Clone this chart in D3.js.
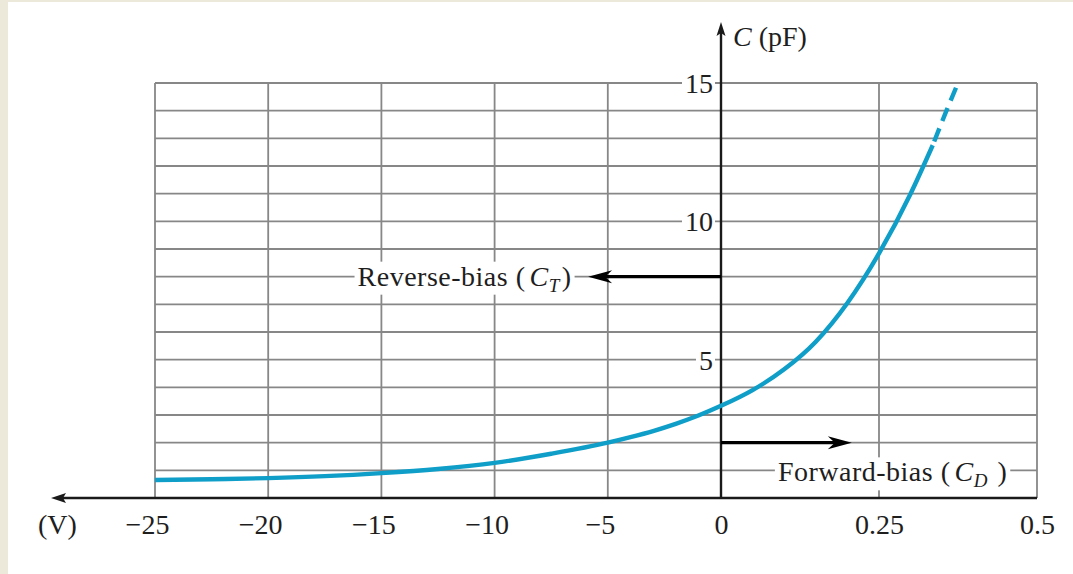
<!DOCTYPE html>
<html>
<head>
<meta charset="utf-8">
<script src="https://cdn.jsdelivr.net/npm/d3@7"></script>
<style>
  html, body { margin: 0; padding: 0; background: #ffffff; }
  svg { display: block; }
</style>
</head>
<body>
<svg id="chart" width="1073" height="574"></svg>
<script>
// ---- data ----
const reverseV = [-25, -22.5, -20, -17.5, -15, -12.5, -10, -7.5, -5, -4, -3, -2, -1, 0];
const reverseC = [0.65, 0.68, 0.72, 0.79, 0.9, 1.05, 1.27, 1.6, 2.0, 2.2, 2.42, 2.68, 2.98, 3.33];
const forwardV = [0.05, 0.1, 0.15, 0.2, 0.25, 0.3, 0.335];
const forwardC = [3.9, 4.65, 5.65, 7.05, 8.84, 11.0, 12.75];
const extrapV = [0.335, 0.355, 0.375];
const extrapC = [12.75, 13.9, 15.0];
const xTickValues = [-25, -20, -15, -10, -5, 0, 0.25, 0.5];
const xGridValues = [-25, -20, -15, -10, -5, 0.25, 0.5];
const yTickValues = [5, 10, 15];
const yGridValues = [1, 2, 3, 4, 5, 6, 7, 8, 9, 10, 11, 12, 13, 14, 15];
const yAxisTitle = ["C", " (pF)"];
const xAxisTitle = "(V)";
const reverseLabel = ["Reverse-bias (", "C", "T", ")"];
const forwardLabel = ["Forward-bias (", "C", "D", " )"];
// annotation anchors in data units (V, pF)
const reverseArrow = { from: 0, to: -5.87, c: 8 };
const forwardArrow = { from: 0, to: 0.207, c: 2 };
const reverseText = { v: -6.6, c: 8 };
const forwardText = { v: 0.09, c: 1 };

const W = 1073, H = 574;
const FONT = "'Liberation Serif', 'DejaVu Serif', serif";
const FS = 28;
const TEXT = "#1e1e1e";
const svg = d3.select("#chart");

// backgrounds
svg.append("rect").attr("width", W).attr("height", H).attr("fill", "#ece9da");
svg.append("rect").attr("x", 8).attr("y", 2).attr("width", W - 8).attr("height", H - 2).attr("fill", "#ffffff");

const x = d3.scaleLinear().domain([-25, 0, 0.5]).range([155, 721, 1037]);
const y = d3.scaleLinear().domain([0, 15]).range([498, 83]);

const gridColor = "#878787";
const gGrid = svg.append("g");
gGrid.selectAll("line.v").data(xGridValues).join("line")
  .attr("x1", d => x(d)).attr("x2", d => x(d))
  .attr("y1", y(0)).attr("y2", y(15))
  .attr("stroke", gridColor).attr("stroke-width", 1.8);
gGrid.selectAll("line.h").data(yGridValues).join("line")
  .attr("x1", x(-25)).attr("x2", x(0.5))
  .attr("y1", d => y(d)).attr("y2", d => y(d))
  .attr("stroke", gridColor).attr("stroke-width", 1.8);

// layer for white label backgrounds
const gMask = svg.append("g");

// axes lines
const axisColor = "#1a1a1a";
svg.append("line").attr("x1", 62).attr("x2", x(0.5)).attr("y1", y(0)).attr("y2", y(0))
  .attr("stroke", axisColor).attr("stroke-width", 2.4);
svg.append("path")
  .attr("d", `M51,${y(0)} L66,${y(0) - 5} L63,${y(0)} L66,${y(0) + 5} Z`)
  .attr("fill", axisColor);
svg.append("line").attr("x1", x(0)).attr("x2", x(0)).attr("y1", y(0)).attr("y2", 32)
  .attr("stroke", axisColor).attr("stroke-width", 2.4);
svg.append("path")
  .attr("d", `M${x(0)},22 L${x(0) - 4.5},36 L${x(0)},33 L${x(0) + 4.5},36 Z`)
  .attr("fill", axisColor);

// x tick labels via d3 axis
const fmt = d => d < 0 ? "\u2212" + (-d) : String(d);
const gx = svg.append("g").attr("transform", `translate(0,${y(0)})`)
  .call(d3.axisBottom(x).tickValues(xTickValues).tickSize(0).tickPadding(16).tickFormat(fmt));
gx.select(".domain").remove();
gx.selectAll("text")
  .attr("font-family", FONT).attr("font-size", FS).attr("fill", TEXT)
  .attr("dx", d => d < 0 ? -8 : 0);

// y tick labels via d3 axis
const gy = svg.append("g").attr("transform", `translate(${x(0)},0)`)
  .call(d3.axisLeft(y).tickValues(yTickValues).tickSize(0).tickPadding(8));
gy.select(".domain").remove();
gy.selectAll("text")
  .attr("font-family", FONT).attr("font-size", FS).attr("fill", TEXT)
  .attr("dy", "0.34em");
gy.selectAll("text").each(function () {
  const b = this.getBBox();
  const tr = this.parentNode.transform.baseVal.consolidate();
  const ty = tr ? tr.matrix.f : 0;
  gMask.append("rect")
    .attr("x", x(0) + b.x - 3).attr("y", ty + b.y + 3)
    .attr("width", b.width + 5).attr("height", b.height - 6)
    .attr("fill", "#fff");
});

// axis titles
const tY = svg.append("text").attr("x", 733).attr("y", 46)
  .attr("font-family", FONT).attr("font-size", FS).attr("fill", TEXT);
tY.append("tspan").attr("font-style", "italic").text(yAxisTitle[0]);
tY.append("tspan").text(yAxisTitle[1]);
svg.append("text").attr("x", 38).attr("y", 534)
  .attr("font-family", FONT).attr("font-size", FS).attr("fill", TEXT).text(xAxisTitle);

// curve
const curveColor = "#0e9ec8";
const solidData = reverseV.map((v, i) => [v, reverseC[i]])
  .concat(forwardV.map((v, i) => [v, forwardC[i]]));
const dashData = extrapV.map((v, i) => [v, extrapC[i]]);
const line = d3.line().x(d => x(d[0])).y(d => y(d[1])).curve(d3.curveMonotoneX);
svg.append("path").attr("d", line(solidData))
  .attr("fill", "none").attr("stroke", curveColor).attr("stroke-width", 4.4);
svg.append("path").attr("d", line(dashData))
  .attr("fill", "none").attr("stroke", curveColor).attr("stroke-width", 4.4)
  .attr("stroke-dasharray", "0 4 14 4");

// arrows
function arrow(x1, x2, yy) {
  const dir = Math.sign(x2 - x1);
  const L = 24, hw = 6.5;
  svg.append("line").attr("x1", x1).attr("x2", x2 - dir * 10).attr("y1", yy).attr("y2", yy)
    .attr("stroke", "#000").attr("stroke-width", 3.4);
  svg.append("path")
    .attr("d", `M${x2},${yy} L${x2 - dir * L},${yy - hw} L${x2 - dir * (L - 7)},${yy} L${x2 - dir * L},${yy + hw} Z`)
    .attr("fill", "#000");
}
arrow(x(reverseArrow.from), x(reverseArrow.to), y(reverseArrow.c));
arrow(x(forwardArrow.from), x(forwardArrow.to), y(forwardArrow.c));

// annotation labels
function label(parts, xx, yy, anchor) {
  const t = svg.append("text").attr("x", xx).attr("y", yy).attr("text-anchor", anchor)
    .attr("font-family", FONT).attr("font-size", FS).attr("fill", TEXT)
    .attr("letter-spacing", 0.5);
  t.append("tspan").text(parts[0]);
  t.append("tspan").attr("dx", 4).attr("font-style", "italic").text(parts[1]);
  t.append("tspan").attr("font-style", "italic").attr("font-size", 19).attr("dy", 6).text(parts[2]);
  t.append("tspan").attr("dy", -6).attr("dx", 2).text(parts[3]);
  const b = t.node().getBBox();
  gMask.append("rect").attr("x", b.x - 3).attr("y", b.y + 1)
    .attr("width", b.width + 6).attr("height", b.height - 2).attr("fill", "#fff");
  return t;
}
label(reverseLabel, x(reverseText.v), y(reverseText.c) + 9, "end");
label(forwardLabel, x(forwardText.v), y(forwardText.c) + 11, "start");
</script>
</body>
</html>
